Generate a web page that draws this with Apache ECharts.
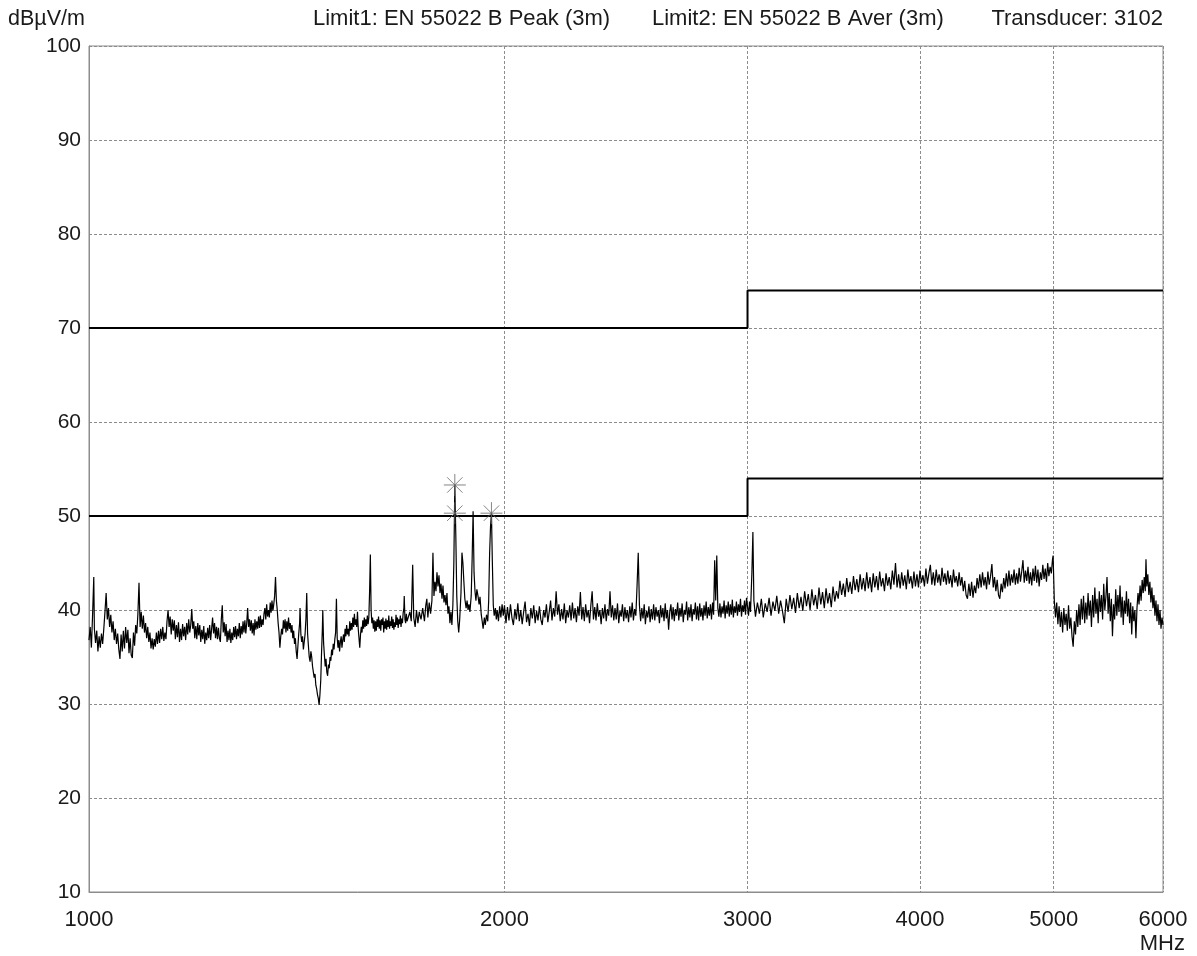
<!DOCTYPE html>
<html><head><meta charset="utf-8">
<script src="https://cdn.jsdelivr.net/npm/echarts@6/dist/echarts.min.js"></script>
<style>html,body{margin:0;padding:0;background:#fff}#c{width:1197px;height:956px}</style>
</head><body><div id="c"></div>
<script>
// ---- axis / labels ----
const xTickValues = [1000, 2000, 3000, 4000, 5000, 6000];
const yUnit = 'dBµV/m';
const xUnit = 'MHz';
const headerTexts = ['Limit1: EN 55022 B Peak (3m)', 'Limit2: EN 55022 B Aver (3m)', 'Transducer: 3102'];

// ---- limit lines ----
const limitEdges = [1000, 3000, 6000];
const peakLimit = [70, 74];
const avgLimit = [50, 54];

// ---- markers ----
const markerFreq = [1841, 1841, 1957];
const markerLevel = [53.3, 50.3, 50.3];

// ---- measured trace [MHz, dBµV/m] ----
const traceA = [
[1000,36.8],[1002,38.2],[1004,36.0],[1006,39.5],[1008,43.5],[1009,38.0],[1011,36.5],[1013,37.8],[1015,35.6],[1017,37.2],
[1019,36.0],[1021,37.5],[1023,36.4],[1025,38.0],[1027,39.8],[1029,41.8],[1031,39.0],[1033,40.2],[1035,38.2],[1037,39.5],
[1039,37.6],[1041,38.8],[1043,36.8],[1045,38.0],[1047,36.4],[1049,37.5],[1051,35.8],[1053,34.8],[1055,37.4],[1057,35.6],
[1059,37.8],[1061,35.9],[1063,38.2],[1065,36.5],[1067,37.9],[1069,35.4],[1071,37.0],[1073,35.2],[1075,34.9],[1077,37.6],
[1079,36.2],[1081,38.4],[1083,37.5],[1085,39.6],[1087,42.9],[1089,38.2],[1091,39.8],[1093,38.0],[1095,39.4],[1097,37.6],
[1099,38.6],[1101,37.0],[1103,38.2],[1105,36.6],[1107,37.6],[1109,35.9],[1111,37.0],[1113,35.8],[1115,36.9],[1117,36.1],
[1119,37.6],[1121,36.4],[1123,37.8],[1125,36.5],[1127,38.0],[1129,36.9],[1131,38.2],[1133,36.7],[1135,37.6],[1137,36.9],
[1139,38.8],[1141,40.0],[1143,38.2],[1145,39.3],[1147,37.4],[1149,39.0],[1151,37.8],[1153,38.9],[1155,36.9],[1157,38.4],
[1159,37.1],[1161,38.7],[1163,36.6],[1165,38.0],[1167,36.8],[1169,38.5],[1171,37.2],[1173,38.2],[1175,36.8],[1177,38.6],
[1179,37.4],[1181,39.0],[1183,37.6],[1185,38.4],[1187,40.1],[1189,38.0],[1191,38.8],[1193,37.0],[1195,38.3],[1197,36.9],
[1199,38.6],[1201,37.3],[1203,38.4],[1205,36.6],[1207,37.9],[1209,36.9],[1211,38.3],[1213,36.4],[1215,37.6],[1217,36.8],
[1219,38.1],[1221,37.0],[1223,38.4],[1225,36.8],[1227,38.0],[1229,39.2],[1231,37.5],[1233,38.6],[1235,37.0],[1237,38.2],
[1239,36.9],[1241,38.1],[1243,37.0],[1245,36.6],[1247,39.0],[1249,40.5],[1251,37.6],[1253,38.7],[1255,37.2],[1257,38.5],
[1259,36.6],[1261,37.8],[1263,36.8],[1265,38.0],[1267,36.5],[1269,37.6],[1271,36.8],[1273,38.2],[1275,37.1],[1277,38.3],
[1279,36.9],[1281,38.0],[1283,37.2],[1285,38.6],[1287,37.0],[1289,38.3],[1291,37.4],[1293,38.8],[1295,37.6],[1297,38.9],
[1299,37.5],[1301,38.6],[1303,40.2],[1305,38.2],[1307,39.0],[1309,37.8],[1311,38.9],[1313,37.5],[1315,38.6],[1317,37.3],
[1319,39.0],[1321,37.9],[1323,38.8],[1325,38.0],[1327,39.3],[1329,38.1],[1331,39.4],[1333,38.2],[1335,39.0],[1337,38.4],
[1339,39.6],[1341,40.2],[1343,39.0],[1345,40.6],[1347,39.3],[1349,40.0],[1351,39.2],[1353,40.8],[1355,39.7],[1357,41.0],
[1359,39.9],[1361,40.6],[1363,41.5],[1365,43.5],[1367,41.0],[1369,40.0],[1371,38.6],[1373,37.6],[1375,36.0],[1377,37.2],
[1379,38.0],[1381,37.4],[1383,38.9],[1385,38.0],[1387,39.0],[1389,37.6],[1391,38.8],[1393,37.8],[1395,39.2],[1397,38.0],
[1399,38.6],[1401,37.6],[1403,38.4],[1405,37.0],[1407,37.8],[1409,36.4],[1411,37.0],[1413,35.6],[1415,34.8],[1417,36.2],
[1419,37.5],[1421,38.6],[1422,40.2],[1424,37.4],[1426,36.6],[1428,37.2],[1430,35.8],[1432,36.6],[1434,37.4],[1436,39.0],
[1438,41.8],[1440,37.5],[1442,36.2],[1444,35.0],[1446,34.5],[1448,35.6],[1450,35.0],[1452,34.0],[1454,33.4],[1456,32.8],
[1458,33.2],[1460,32.0],[1462,31.6],[1464,31.0],[1466,30.6],[1468,29.9],[1470,31.0],[1472,32.5],[1474,35.5],[1476,38.0],
[1477,40.0],[1479,36.5],[1481,35.2],[1483,34.0],[1485,34.8],[1487,33.4],[1489,33.0],[1491,34.2],[1493,33.8],[1495,35.0],
[1497,34.6],[1499,35.8]
];
const traceB = [
[1501,35.2],[1503,36.4],[1505,35.8],[1507,36.9],[1509,37.6],[1511,41.2],[1513,37.0],[1515,36.0],[1517,36.8],[1519,35.6],
[1521,36.6],[1523,37.2],[1525,36.0],[1527,36.8],[1529,37.4],[1531,36.6],[1533,38.0],[1535,37.2],[1537,38.4],[1539,37.4],
[1541,38.0],[1543,37.2],[1545,38.8],[1547,37.8],[1549,38.6],[1551,37.9],[1553,39.2],[1555,38.2],[1557,39.6],[1559,38.4],
[1561,39.0],[1563,38.2],[1565,39.8],[1567,38.0],[1569,37.0],[1571,36.0],[1573,37.4],[1575,38.2],[1577,37.6],[1579,38.9],
[1581,38.0],[1583,39.2],[1585,38.2],[1587,39.0],[1589,38.3],[1591,39.4],[1593,38.5],[1595,39.2],[1597,42.0],[1599,45.9],
[1601,40.0],[1603,38.6],[1605,39.2],[1607,38.0],[1609,38.9],[1611,37.7],[1613,38.8],[1615,37.8],[1617,39.0],[1619,38.2],
[1621,39.3],[1623,38.0],[1625,38.9],[1627,37.8],[1629,39.0],[1631,38.4],[1633,39.2],[1635,37.6],[1637,38.8],[1639,38.0],
[1641,39.1],[1643,37.9],[1645,38.9],[1647,38.2],[1649,39.4],[1651,38.0],[1653,38.8],[1655,38.3],[1657,39.3],[1659,38.1],
[1661,39.0],[1663,37.9],[1665,38.7],[1667,38.2],[1669,39.5],[1671,38.4],[1673,39.2],[1675,38.1],[1677,39.0],[1679,38.5],
[1681,39.4],[1683,38.2],[1685,39.1],[1687,38.6],[1689,39.7],[1691,40.2],[1692,41.5],[1694,39.0],[1696,38.6],[1698,39.6],
[1700,38.8],[1704,38.6],[1708,39.8],[1712,38.8],[1716,44.8],
[1719,39.2],[1723,38.2],[1727,40.0],[1731,38.6],[1735,39.8],[1740,39.0],[1745,40.2],[1750,38.8],[1754,40.5],[1757,41.2],
[1760,39.2],[1764,40.8],[1768,39.6],[1772,41.0],[1775,46.1],[1778,41.5],[1781,43.0],[1784,42.0],[1787,44.0],[1790,42.5],
[1793,43.7],[1796,41.8],[1799,42.8],[1802,41.2],[1805,42.6],[1808,40.8],[1811,41.6],[1814,40.5],[1817,41.8],[1820,39.6],
[1823,40.4],[1826,38.6],[1829,39.8],[1832,38.4],[1835,40.5],[1838,45.0],[1841,53.3],[1844,48.0],[1847,41.5],[1850,38.8],
[1853,37.6],[1856,39.0],[1860,41.8],[1863,46.1],[1866,45.0],[1869,43.0],[1872,41.2],[1876,40.2],[1879,41.0],[1882,40.0],
[1885,40.6],[1888,39.8],[1892,41.5],[1895,45.5],[1898,50.5],[1901,44.0],[1904,42.0],[1907,41.0],[1910,42.2],[1914,41.4],
[1917,40.6],[1920,41.4],[1924,39.5],[1927,38.8],[1930,38.0],[1934,39.2],[1937,38.4],[1941,39.5],[1945,38.8],[1948,41.0],
[1951,46.0],[1954,48.9],[1957,50.3],[1960,45.0],[1963,40.5],[1966,39.4],[1970,40.2],[1973,39.0],[1976,40.0],[1980,38.8],
[1984,40.4],[1988,39.2],[1992,40.6],[1996,39.4],[2000,40.5]
];
const traceC = [
[2005,38.6],[2010,40.3],[2015,38.9],[2020,40.6],[2025,39.2],[2030,38.4],[2035,40.1],[2040,39.0],[2045,40.7],[2050,38.8],
[2055,40.0],[2060,38.5],[2065,39.8],[2070,40.9],[2075,38.7],[2080,39.6],[2085,38.3],[2090,40.2],[2095,39.1],[2100,40.5],
[2105,38.6],[2110,39.9],[2115,38.9],[2120,40.4],[2125,39.0],[2130,38.4],[2135,40.0],[2140,39.2],[2145,40.6],[2150,38.7],
[2155,39.8],[2160,41.0],[2165,38.9],[2170,40.2],[2175,39.3],[2180,42.0],[2185,39.5],[2190,40.6],[2195,38.8],[2200,40.1],
[2205,39.0],[2210,40.7],[2215,38.6],[2220,40.0],[2225,39.2],[2230,40.5],[2235,38.9],[2240,40.8],[2245,39.1],[2250,40.2],
[2255,38.7],[2260,40.4],[2265,39.4],[2270,41.9],[2275,39.0],[2280,40.3],[2285,38.8],[2290,40.6],[2295,39.2],[2300,40.0],
[2305,38.6],[2310,40.5],[2315,42.0],[2320,39.0],[2325,40.3],[2330,38.9],[2335,40.7],[2340,39.3],[2345,40.0],[2350,38.5],
[2355,40.2],[2360,39.1],[2365,40.6],[2370,38.8],[2375,40.1],[2380,39.4],[2385,42.0],[2390,39.2],[2395,40.5],[2400,38.9],
[2405,40.2],[2410,39.0],[2415,40.7],[2420,38.6],[2425,39.9],[2430,39.3],[2435,40.6],[2440,38.8],[2445,40.3],[2450,39.1],
[2455,40.0],[2460,38.7],[2465,40.4],[2470,39.2],[2475,40.8],[2480,38.9],[2485,40.1],[2490,39.4],[2495,42.5],[2500,46.1],
[2505,40.5],[2510,38.8],[2515,40.2],[2520,39.1],[2525,40.6],[2530,38.5],[2535,39.9],[2540,39.2],[2545,40.4],[2550,38.7],
[2555,40.1],[2560,39.0],[2565,40.6],[2570,38.9],[2575,40.3],[2580,39.3],[2585,40.0],[2590,38.6],[2595,40.5],[2600,39.2],
[2605,40.2],[2610,38.8],[2615,40.7],[2620,39.1],[2625,40.0],[2630,37.9],[2635,39.8],[2640,40.6],[2645,39.0],[2650,40.3],
[2655,38.8],[2660,40.1],[2665,39.4],[2670,40.8],[2675,38.9],[2680,40.2],[2685,39.3],[2690,40.7],[2695,38.7],[2700,40.0],
[2705,39.5],[2710,40.9],[2715,38.9],[2720,40.3],[2725,39.2],[2730,40.6],[2735,38.8],[2740,40.1],[2745,39.5],[2750,40.8],
[2755,39.0],[2760,40.4],[2765,38.9],[2770,40.7],[2775,39.3],[2780,40.2],[2785,38.9],[2790,40.5],[2795,39.4],[2800,40.9],
[2805,39.1],[2810,40.3],[2815,39.4],[2820,40.6],[2825,39.0],[2830,40.8],[2835,39.5],[2840,45.3],[2845,41.0],[2850,45.8],
[2855,40.2],[2860,39.3],[2865,40.7],[2870,39.2],[2875,40.4],[2880,39.6],[2885,41.0],[2890,39.1],[2895,40.5],[2900,39.6],
[2905,40.9],[2910,39.3],[2915,40.6],[2920,39.5],[2925,41.1],[2930,39.2],[2935,40.4],[2940,39.7],[2945,40.9],[2950,39.4],
[2955,40.6],[2960,39.8],[2965,41.2],[2970,39.3],[2975,40.5],[2980,39.8],[2985,41.0],[2990,39.5],[2995,41.3]
];
const traceD = [
[3005,39.4],[3010,40.9],[3015,39.8],[3022,44.0],[3027,48.3],[3032,41.0],[3040,39.3],[3050,40.8],[3060,39.6],[3070,41.2],
[3080,39.2],[3090,40.7],[3100,39.8],[3110,41.3],[3120,39.4],[3130,40.9],[3140,39.9],[3150,41.5],[3160,39.6],[3170,41.0],
[3180,39.9],[3190,38.6],[3200,41.2],[3210,39.8],[3220,41.6],[3230,40.1],[3240,41.3],[3250,39.7],[3260,41.8],[3270,40.2],
[3280,41.4],[3290,39.9],[3300,42.0],[3310,40.4],[3320,41.7],[3330,40.0],[3340,42.2],[3350,40.5],[3360,41.6],[3370,40.1],
[3380,42.4],[3390,40.6],[3400,41.9],[3410,40.2],[3420,42.3],[3430,40.7],[3440,41.8],[3450,40.3],[3460,42.5],[3470,40.9],
[3480,42.0],[3490,41.2],[3500,43.1],[3510,41.6],[3520,42.8],[3530,41.4],[3540,43.4],[3550,41.9],[3560,43.0],[3570,41.7],
[3580,43.6],[3590,42.1],[3600,43.3],[3610,41.9],[3620,43.8],[3630,42.2],[3640,43.4],[3650,42.0],[3660,44.0],[3670,42.3],
[3680,43.5],[3690,41.9],[3700,43.9],[3710,42.4],[3720,43.6],[3730,42.1],[3740,44.1],[3750,42.5],[3760,43.4],[3770,42.0],
[3780,43.9],[3790,42.6],[3800,43.5],[3810,42.2],[3820,44.2],[3830,42.7],[3840,45.0],[3850,42.4],[3860,43.8],[3870,42.3],
[3880,44.0],[3890,42.6],[3900,43.7],[3910,42.2],[3920,44.3],[3930,42.8],[3940,43.6],[3950,42.3],[3960,44.1],[3970,42.5],
[3980,43.8],[3990,42.4],[4000,44.2],[4010,42.9],[4020,43.7],[4030,42.5],[4040,44.4],[4050,42.8],[4060,43.9],[4070,44.8],
[4080,42.7],[4090,44.0],[4100,42.6],[4110,44.3],[4120,42.9],[4130,43.8],[4140,42.6],[4150,44.5],[4160,43.0],[4170,43.9],
[4180,42.7],[4190,44.2],[4200,42.8],[4210,43.7],[4220,42.4],[4230,44.3],[4240,42.9],[4250,43.6],[4260,42.5],[4270,44.0],
[4280,42.6],[4290,43.5],[4300,42.0],[4310,43.1],[4320,41.6],[4330,41.2],[4340,42.8],[4350,41.5],[4360,43.0],[4370,41.3],
[4380,42.6],[4390,41.8],[4400,43.4],[4410,42.3],[4420,43.8],[4430,42.4],[4440,44.0],[4450,42.6],[4460,43.5],[4470,42.2],
[4480,44.1],[4490,42.7],[4500,43.6],[4510,44.9],[4520,42.4],[4530,43.5],[4540,42.0],[4550,43.2],[4560,41.6],[4570,41.2],
[4580,42.8],[4590,41.9],[4600,43.4],[4610,42.3],[4620,43.9],[4630,42.5],[4640,44.2],[4650,42.6],[4660,43.8],[4670,42.9],
[4680,44.3],[4690,42.7],[4700,43.9],[4710,42.8],[4720,44.5],[4730,43.0],[4740,44.1],[4750,45.3],[4760,42.9],[4770,44.2],
[4780,43.1],[4790,44.6],[4800,42.8],[4810,44.0],[4820,42.6],[4830,44.4],[4840,43.1],[4850,44.7],[4860,42.9],[4870,44.3],
[4880,42.5],[4890,44.0],[4900,43.2],[4910,44.8],[4920,43.3],[4930,44.4],[4940,43.0],[4950,45.0],[4960,43.6],[4970,44.6],
[4980,43.9],[4990,45.4],[4995,45.8]
];
const traceE = [
[5005,41.0],[5015,39.2],[5025,40.8],[5035,38.5],[5045,40.4],[5055,38.2],[5065,39.8],[5075,37.6],[5085,40.2],[5095,38.4],
[5105,39.6],[5115,37.8],[5125,40.5],[5135,38.0],[5145,39.2],[5155,37.2],[5165,36.1],[5175,38.8],[5185,37.4],[5195,40.0],
[5205,38.2],[5215,40.6],[5225,38.4],[5235,41.2],[5245,39.0],[5255,41.5],[5265,38.6],[5275,40.8],[5285,39.0],[5295,41.8],
[5305,39.4],[5315,41.0],[5325,38.2],[5335,41.6],[5345,39.2],[5355,42.4],[5365,39.6],[5375,41.2],[5385,38.6],[5395,42.0],
[5405,39.8],[5415,41.6],[5425,39.0],[5435,42.8],[5445,40.0],[5455,41.4],[5465,43.5],[5475,39.6],[5485,41.8],[5495,38.8],
[5505,41.2],[5515,37.2],[5525,40.6],[5535,39.0],[5545,42.2],[5555,39.4],[5565,41.6],[5575,39.8],[5585,42.6],[5595,39.2],
[5605,41.4],[5615,38.4],[5625,41.0],[5635,39.6],[5645,42.0],[5655,39.3],[5665,41.2],[5675,38.6],[5685,40.8],[5695,37.4],
[5705,40.4],[5715,38.8],[5725,40.0],[5735,37.0],[5745,40.2],[5755,41.8],[5765,40.6],[5775,42.6],[5785,41.0],[5795,43.2],
[5805,41.8],[5815,43.5],[5825,42.0],[5832,45.4],[5840,42.5],[5850,43.8],[5860,41.6],[5870,43.0],[5880,40.8],[5890,42.4],
[5900,40.2],[5910,41.6],[5920,39.4],[5930,41.0],[5940,38.8],[5950,40.6],[5960,38.4],[5970,40.0],[5980,38.0],[5990,39.2],
[6000,38.4]
];

const trace = [].concat(traceA, traceB, traceC, traceD, traceE);
function stepData(edges, levels) {
  return [[edges[0], levels[0]], [edges[1], levels[0]], [edges[1], levels[1]], [edges[2], levels[1]]];
}
const markerData = markerFreq.map((f, i) => [f, markerLevel[i]]);

const FONT = 'Liberation Sans';
const TXT = '#1a1a1a';
const chart = echarts.init(document.getElementById('c'), null, {renderer: 'canvas'});
chart.setOption({
  animation: false,
  backgroundColor: '#fff',
  grid: {left: 89, top: 46, right: 34, bottom: 64, show: true, borderColor: '#8c8c8c', borderWidth: 1, backgroundColor: 'transparent'},
  xAxis: {
    type: 'log', logBase: 10, min: 1000, max: 6000,
    axisLine: {show: true, lineStyle: {color: '#8c8c8c', width: 1}},
    axisTick: {show: false, customValues: xTickValues},
    axisLabel: {customValues: xTickValues, color: TXT, fontFamily: FONT, fontSize: 22, margin: 17,
      formatter: v => String(Math.round(v))},
    splitLine: {show: true, lineStyle: {color: '#8c8c8c', type: [3, 2], width: 1}},
    minorSplitLine: {show: false}
  },
  yAxis: {
    type: 'value', min: 10, max: 100, interval: 10,
    axisLine: {show: true, lineStyle: {color: '#8c8c8c', width: 1}},
    axisTick: {show: false},
    axisLabel: {color: TXT, fontFamily: FONT, fontSize: 21, margin: 8},
    splitLine: {show: true, lineStyle: {color: '#8c8c8c', type: [3, 2], width: 1}}
  },
  graphic: [
    {type: 'text', left: 8, top: 8, style: {text: yUnit, font: '21.5px "Liberation Sans"', fill: TXT}},
    {type: 'text', left: 313, top: 8, style: {text: headerTexts[0], font: '22px "Liberation Sans"', fill: TXT}},
    {type: 'text', left: 652, top: 8, style: {text: headerTexts[1], font: '22px "Liberation Sans"', fill: TXT}},
    {type: 'text', right: 34, top: 8, style: {text: headerTexts[2], font: '22px "Liberation Sans"', fill: TXT}},
    {type: 'text', right: 12, top: 933, style: {text: xUnit, font: '22px "Liberation Sans"', fill: TXT}}
  ],
  series: [
    {type: 'line', name: 'trace', data: trace, showSymbol: false, symbol: 'none',
      lineStyle: {color: '#000', width: 1.2}, z: 3},
    {type: 'line', name: 'peak', data: stepData(limitEdges, peakLimit), showSymbol: false, symbol: 'none',
      lineStyle: {color: '#000', width: 2}, z: 4},
    {type: 'line', name: 'aver', data: stepData(limitEdges, avgLimit), showSymbol: false, symbol: 'none',
      lineStyle: {color: '#000', width: 2}, z: 4},
    {type: 'scatter', name: 'markers', data: markerData, symbolSize: 22,
      symbol: 'path://M0,10L20,10M10,0L10,20M3,3L17,17M17,3L3,17',
      itemStyle: {color: 'rgba(0,0,0,0)', borderColor: '#666', borderWidth: 1}, z: 5}
  ]
});
</script></body></html>
